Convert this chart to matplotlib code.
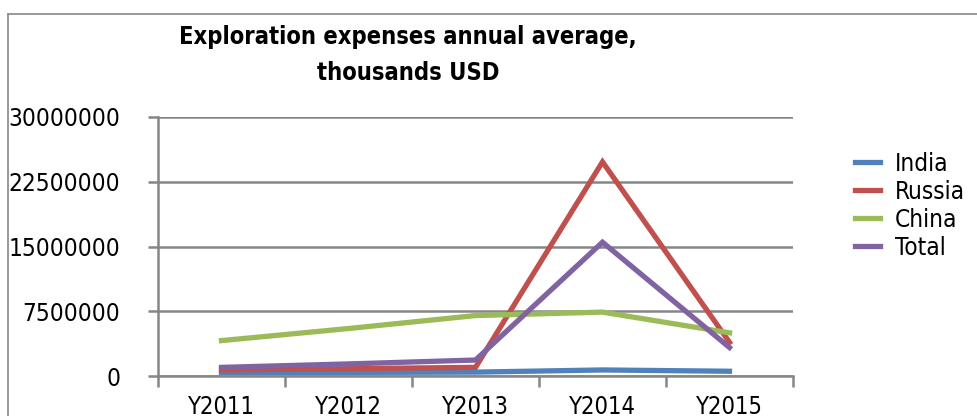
import numpy as np
import matplotlib
matplotlib.use("Agg")
import matplotlib.pyplot as plt
from matplotlib.lines import Line2D

# data
years = ["Y2011", "Y2012", "Y2013", "Y2014", "Y2015"]
india = [400000, 420000, 450000, 700000, 550000]
russia = [700000, 850000, 1000000, 24800000, 3900000]
china = [4100000, 5500000, 7000000, 7400000, 5000000]
total = [1000000, 1400000, 1850000, 15500000, 3300000]
yticks = [0, 7500000, 15000000, 22500000, 30000000]

series = [("India", india, "#4F81BD"),
          ("Russia", russia, "#C0504D"),
          ("China", china, "#9BBB59"),
          ("Total", total, "#8064A2")]

plt.rcParams['font.family'] = ['DejaVu Sans']
plt.rcParams['font.stretch'] = 'condensed'

fig = plt.figure(figsize=(9.77, 4.16), dpi=100)
ax = fig.add_axes([158 / 977, 40 / 416, 635 / 977, 259 / 416])

x = np.arange(len(years))
for name, vals, col in series:
    ax.plot(x, vals, color=col, lw=3.8, label=name, solid_joinstyle='miter')

grid_col = "#868686"
ax.set_xlim(-0.5, len(years) - 0.5)
ax.set_ylim(0, 30000000)
ax.set_yticks(yticks)
ax.set_yticklabels([str(v) for v in yticks])
ax.set_xticks(x)
ax.set_xticklabels(years)
ax.set_xticks(np.arange(-0.5, len(years)), minor=True)
ax.tick_params(axis='x', which='major', length=0, labelsize=17, pad=14)
ax.tick_params(axis='x', which='minor', length=8, width=1.8, color=grid_col, direction='out')
ax.tick_params(axis='y', length=7, width=1.8, color=grid_col, labelsize=17.5, pad=20)
ax.yaxis.grid(True, color=grid_col, lw=1.8)
ax.set_axisbelow(True)
for s in ['top', 'right']:
    ax.spines[s].set_visible(False)
for s in ['left', 'bottom']:
    ax.spines[s].set_color(grid_col)
    ax.spines[s].set_linewidth(1.8)

ax.legend(loc='upper left', bbox_to_anchor=(855 / 977, 1 - 152 / 416),
          bbox_transform=fig.transFigure, frameon=False, fontsize=17.5,
          handlelength=1.03, handletextpad=0.6, labelspacing=0.16,
          borderaxespad=0, borderpad=0)

fig.text(408 / 977, 1 - 55 / 416, "Exploration expenses annual average,\nthousands USD",
         ha='center', va='center', fontsize=17, fontweight='bold', linespacing=1.58)

# outer chart frame (cut by the image edges)
fig.add_artist(Line2D([8 / 977, 8 / 977], [0, 1 - 14 / 416], color="#878787", lw=1.2,
                      transform=fig.transFigure))
fig.add_artist(Line2D([8 / 977, 1], [1 - 14 / 416, 1 - 14 / 416], color="#878787", lw=1.2,
                      transform=fig.transFigure))

fig.savefig("out.png", dpi=100)
